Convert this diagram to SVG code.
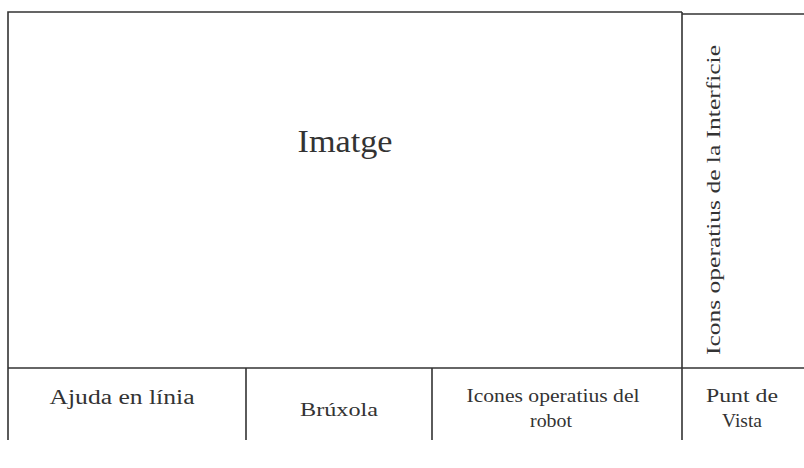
<svg xmlns="http://www.w3.org/2000/svg" width="804" height="468" viewBox="0 0 804 468">
<style>
.ln{stroke:#333;stroke-width:1.6;fill:none}
.t{font-family:"Liberation Serif","Times New Roman",serif;fill:#333;text-anchor:middle}
</style>
<rect width="804" height="468" fill="#fff"/>
<g id="connectors">
<path class="ln" d="M8,440 V12 H682"/>
<path class="ln" d="M682,12 V440"/>
<path class="ln" d="M682,14 H804"/>
<path class="ln" d="M8,368 H804"/>
<path class="ln" d="M246,368 V440"/>
<path class="ln" d="M432,368 V440"/>
</g>
<g id="imatge"><text class="t" x="345" y="152" font-size="32" textLength="95" lengthAdjust="spacingAndGlyphs">Imatge</text></g>
<g id="icons-interficie"><text class="t" transform="translate(720,200) rotate(-90)" x="0" y="0" font-size="18" textLength="310" lengthAdjust="spacingAndGlyphs">Icons operatius de la Interficie</text></g>
<g id="ajuda"><text class="t" x="122" y="404" font-size="20" textLength="145" lengthAdjust="spacingAndGlyphs">Ajuda en línia</text></g>
<g id="bruxola"><text class="t" x="339" y="416" font-size="18" textLength="78" lengthAdjust="spacingAndGlyphs">Brúxola</text></g>
<g id="icones-robot"><text class="t" x="553" y="402" font-size="18" textLength="173" lengthAdjust="spacingAndGlyphs">Icones operatius del</text><text class="t" x="551" y="427" font-size="18" textLength="42" lengthAdjust="spacingAndGlyphs">robot</text></g>
<g id="punt-vista"><text class="t" x="742" y="402" font-size="18" textLength="72" lengthAdjust="spacingAndGlyphs">Punt de</text><text class="t" x="742" y="427" font-size="18" textLength="40" lengthAdjust="spacingAndGlyphs">Vista</text></g>
</svg>
